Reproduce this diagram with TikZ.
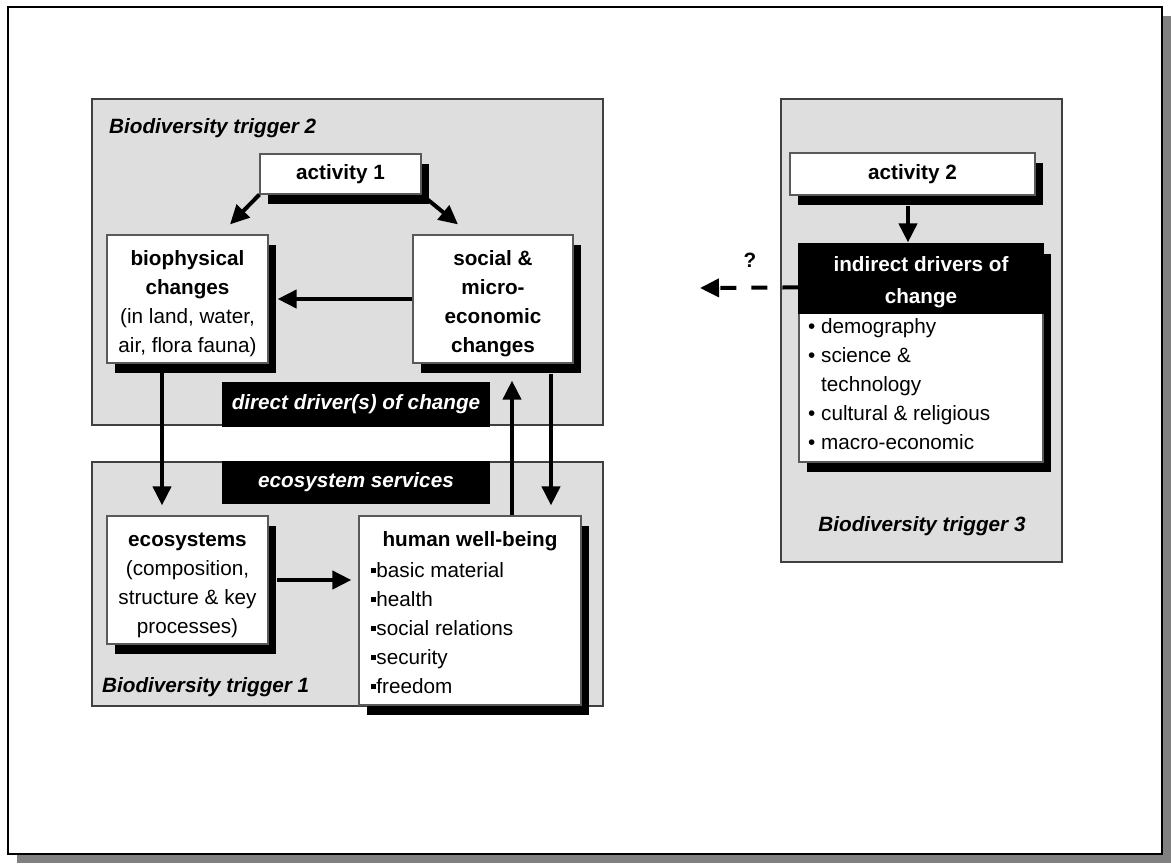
\documentclass[tikz,border=0pt]{standalone}
\usepackage{fontspec}
\setmainfont{Liberation Sans}
\usetikzlibrary{arrows.meta,calc}

\newcommand{\bodyfont}{\fontsize{20.7}{29}\selectfont}
\newcommand{\sqb}{\raisebox{4.2pt}{\rule{5.2pt}{5.2pt}}}
\newcommand{\topgap}{\rule{0pt}{24pt}}

\tikzset{
  x=1pt, y=-1pt,
  every node/.style={font=\bodyfont, inner sep=0pt},
  trigger/.style={draw=black!75, line width=1.2pt, fill=black!13},
  shadowbox/.style={draw=black!65, line width=1.2pt, fill=white, align=center,
    preaction={fill=black, transform canvas={xshift=8pt, yshift=-10pt}}},
  darklabel/.style={fill=black, text=white, font=\bodyfont\bfseries\itshape},
  triglabel/.style={font=\bodyfont\bfseries\itshape, anchor=west},
  flow/.style={line width=4pt, -{Triangle[length=19pt, width=18pt]}},
}

\begin{document}
\begin{tikzpicture}
\useasboundingbox (0,0) rectangle (1171,863);

% page frame with its shadow
\fill[black!50] (17,16) rectangle (1171,863);
\draw[line width=2.5pt, fill=white] (8,7) rectangle (1162,854);

% trigger panels
\draw[trigger] (92,99) rectangle (603,425);
\draw[trigger] (92,462) rectangle (603,706);
\draw[trigger] (781,99) rectangle (1062,562);

\node[triglabel] (t2) at (109,128) {Biodiversity trigger 2};
\node[triglabel] (t1) at (102,687) {Biodiversity trigger 1};
\node[font=\bodyfont\bfseries\itshape] (t3) at (922,526) {Biodiversity trigger 3};

% boxes of trigger 2
\node[shadowbox, minimum width=161pt, minimum height=40pt, font=\bodyfont\bfseries]
  (act1) at (340.5,174) {activity 1};
\node[shadowbox, minimum width=161pt, minimum height=128pt] (bio) at (187.5,299)
  {\topgap\textbf{biophysical}\\\textbf{changes}\\(in land, water,\\air, flora fauna)};
\node[shadowbox, minimum width=160pt, minimum height=128pt, font=\bodyfont\bfseries]
  (soc) at (493,299) {\topgap social \&\\micro-\\economic\\changes};
\node[darklabel, minimum width=268pt, minimum height=45pt] (direct) at (356,404.5)
  {direct driver(s) of change};

% boxes of trigger 1
\node[darklabel, minimum width=268pt, minimum height=43pt] (services) at (356,482.5)
  {ecosystem services};
\node[shadowbox, minimum width=161pt, minimum height=128pt] (eco) at (187.5,580)
  {\topgap\textbf{ecosystems}\\(composition,\\structure \& key\\processes)};
\node[shadowbox, minimum width=222pt, minimum height=189pt] (hwb) at (470,610.5) {};
\node[font=\bodyfont\bfseries] (hwbtitle) at (470,541) {human well-being};
\node[anchor=north west, align=left] (hwblist) at (371,562)
  {\sqb basic material\\\sqb health\\\sqb social relations\\\sqb security\\\sqb freedom};

% boxes of trigger 3
\node[shadowbox, minimum width=245pt, minimum height=42pt, font=\bodyfont\bfseries]
  (act2) at (912.5,174) {activity 2};
\node[shadowbox, minimum width=244pt, minimum height=218pt] (indirect) at (921,353) {};
\fill[black] (indirect.north west) rectangle ($(indirect.north east)+(0,71)$);
\node[text=white, align=center, font=\fontsize{20.7}{32}\selectfont\bfseries] (indtitle) at (921,282)
  {indirect drivers of\\change};
\node[anchor=north west, align=left] (indlist) at (808,318)
  {\textbullet\ demography\\\textbullet\ science \&\\\phantom{\textbullet\ }technology\\\textbullet\ cultural \& religious\\\textbullet\ macro-economic};

% connectors
\draw[flow] (act1.south west) -- ($(bio.north)+(42.5,-10)$);
\draw[flow] (act1.south east) -- ($(soc.north)+(-35,-10)$);
\draw[flow] (soc.west) -- ([xshift=9pt]soc.west -| bio.east);
\draw[flow] ($(bio.south)+(-25.5,0)$) -- ($(eco.north)+(-25.5,-10)$);
\draw[flow] ($(hwb.north)+(42,0)$) -- ($(soc.south)+(19,17)$);
\draw[flow] ($(soc.south)+(58,10)$) -- ($(hwb.north)+(81,-10)$);
\draw[flow] ([xshift=8pt]eco.east) -- ([xshift=-7pt]eco.east -| hwb.west);
\draw[flow] ($(act2.south)+(-4.5,10)$) -- ($(indirect.north)+(-13,-1)$);

\coordinate (qtip) at (700,288);
\draw[flow, dash pattern=on 16pt off 15pt] ([yshift=-44pt]indirect.north west) -- (qtip);
\node[font=\bodyfont\bfseries] (qmark) at (750,260) {?};
\end{tikzpicture}
\end{document}
